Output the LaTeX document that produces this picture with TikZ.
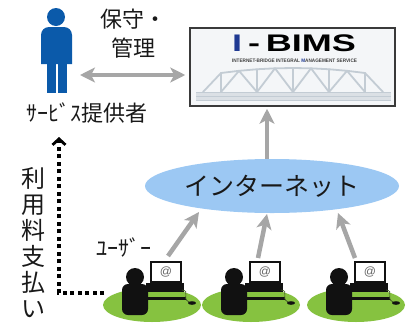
\documentclass[tikz,border=0pt]{standalone}
\usepackage{fontspec}
\setmainfont{Liberation Sans}
\newfontfamily\jp{Noto Sans CJK JP}
\usetikzlibrary{arrows.meta,shapes.geometric}

\definecolor{provblue}{HTML}{0B5AAA}
\definecolor{arrowgray}{HTML}{A6A6A6}
\definecolor{netblue}{HTML}{9CC8F3}
\definecolor{usergreen}{HTML}{86C240}
\definecolor{userblack}{HTML}{111111}
\definecolor{boxedge}{HTML}{3A3A3A}
\definecolor{boxfill}{HTML}{F4F6F8}
\definecolor{bridgegray}{HTML}{C3CCD4}
\definecolor{logoblue}{HTML}{1F3A93}

\tikzset{
  jplabel/.style={font=\jp\fontsize{22}{29}\selectfont, text=black!90, inner sep=0pt, align=center},
  grayarrow/.style={draw=arrowgray, line width=4.5pt,
    -{Stealth[length=15pt,width=15pt,inset=4pt]}},
  twoway/.style={draw=arrowgray, line width=4.5pt,
    {Stealth[length=15pt,width=15pt,inset=4pt]}-{Stealth[length=15pt,width=15pt,inset=4pt]}},
  dotline/.style={draw=black, line width=4pt, dash pattern=on 4pt off 3.5pt,
    -{Straight Barb[length=6pt,width=13pt,line width=2.8pt]}},
  truss/.style={draw=bridgegray, line width=1.8pt, line cap=round, line join=round},
  usericon/.pic={
    % desk area and seated user
    \fill[usergreen] (0,0) ellipse [x radius=49pt, y radius=17pt];
    \fill[userblack] (-17,-28) circle [radius=9pt];
    \fill[userblack, rounded corners=6pt] (-30,10) -- (-30,-21) -- (-4,-21) -- (-4,10) -- cycle;
    \fill[userblack] (-6,-22) rectangle (32,-13);
    \fill[userblack] (-6,-8) rectangle (34,-5);
    \draw[userblack, line width=2.5pt, fill=white] (-1,-43) rectangle (29,-23);
    \node[text=black!60, font=\fontsize{12}{12}\selectfont, inner sep=0pt] (-at) at (14,-33) {@};
    \draw[userblack!60!usergreen, line width=0.7pt] (30,-15) .. controls (39,-14) and (29,-7) .. (37,-3);
    \fill[userblack] (40,-2) ellipse [x radius=4pt, y radius=1.8pt];
  }
}

\begin{document}
\begin{tikzpicture}[x=1pt,y=-1pt]
\useasboundingbox (0,0) rectangle (412,322);

% service provider
\fill[provblue] (56,17) circle [radius=9pt];
\fill[provblue] (41,64) [rounded corners=8pt] -- (41,27) -- (72,27) [sharp corners] -- (72,64) -- cycle;
\fill[provblue] (47,60) rectangle (56,93);
\fill[provblue] (58,60) rectangle (67,93);
\coordinate (prov) at (80,75);
\node[jplabel] (svc) at (87,113) {ｻｰﾋﾞｽ提供者};
\node[jplabel] (maint) at (133,34) {保守・\\管理};

% I-BIMS panel
\node[draw=boxedge, line width=1.5pt, fill=boxfill, minimum width=205pt,
      minimum height=78pt, inner sep=0pt] (bims) at (292.5,67) {};
\node[inner sep=0pt] (logo) at (294,43)
  {\fontsize{24}{24}\selectfont\bfseries\scalebox{1.5}[1]{\textcolor{logoblue}{I}\,-\,BIMS}};
\node[inner sep=0pt, text=black!75] (sub) at (294.5,61)
  {\resizebox{125pt}{3.5pt}{\bfseries INTERNET-BRIDGE INTEGRAL \textcolor{logoblue}{M}ANAGEMENT SERVICE}};

% truss bridge
\fill[bridgegray!60] (196,92) rectangle (391,100);
\draw[bridgegray, line width=1pt] (196,92) -- (391,92) (196,96) -- (391,96) (196,100) -- (391,100);
\foreach \i in {0,...,10} {
  \pgfmathsetmacro{\xx}{203+18*\i}
  \pgfmathsetmacro{\yy}{(\i==0 || \i==10) ? 92 : 68+5*((\xx-293)/72)^2}
  \coordinate (t\i) at (\xx,\yy);
  \coordinate (b\i) at (\xx,92);
}
\draw[truss] (t0) -- (t1) -- (t2) -- (t3) -- (t4) -- (t5) -- (t6) -- (t7) -- (t8) -- (t9) -- (t10);
\foreach \i in {1,3,5,7,9} \draw[truss] (t\i) -- (b\i);
\foreach \i/\j/\k in {1/2/3,3/4/5,5/6/7,7/8/9} \draw[truss] (b\i) -- (t\j) -- (b\k);

% maintenance link
\draw[twoway] (prov) -- ([xshift=-4pt]prov -| bims.west);

% internet
\node[ellipse, fill=netblue, minimum width=254pt, minimum height=54pt, inner sep=0pt,
      font=\jp\fontsize{25}{25}\selectfont, text=black!90] (net) at (272,186) {インターネット};
\coordinate (upx) at (267,0);
\draw[grayarrow] (upx |- net.north) -- ([yshift=-2pt]upx |- bims.south);

% users
\pic (u1) at (152,305) {usericon};
\pic (u2) at (251,305) {usericon};
\pic (u3) at (356,305) {usericon};
\coordinate (s1) at (168,256);
\coordinate (s2) at (258,258);
\coordinate (s3) at (355,258);
\coordinate (e1) at (199,212);
\coordinate (e2) at (267,214);
\coordinate (e3) at (338,213);
\draw[grayarrow] (s1) -- (e1);
\draw[grayarrow] (s2) -- (e2);
\draw[grayarrow] (s3) -- (e3);
\node[jplabel] (user) at (124,248) {ﾕｰｻﾞｰ};

% fee payment
\node[jplabel, font=\jp\fontsize{24}{26}\selectfont] (pay) at (33,243) {利\\用\\料\\支\\払\\い};
\coordinate (d0) at (104,293);
\coordinate (d1) at (59,137);
\draw[dotline] (d0) -| (d1);
\end{tikzpicture}
\end{document}
